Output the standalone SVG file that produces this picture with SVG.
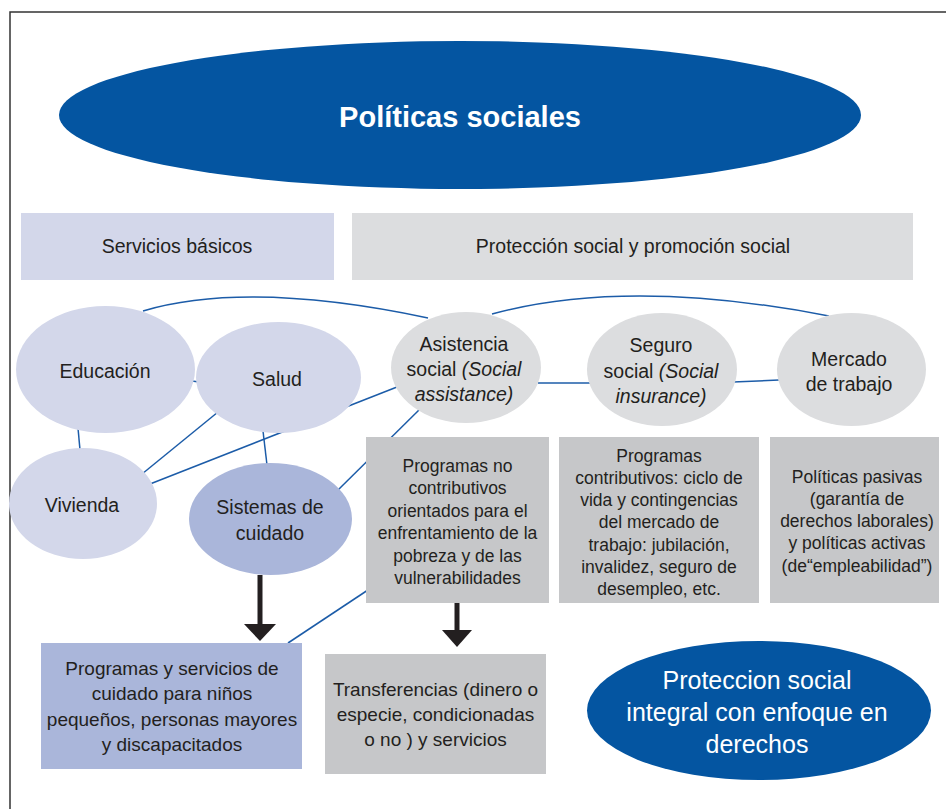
<svg xmlns="http://www.w3.org/2000/svg" width="946" height="809" viewBox="0 0 946 809">
<style>
text{font-family:"Liberation Sans",Arial,sans-serif;fill:#231f20;text-anchor:middle}
.w{fill:#ffffff}
.n{font-size:19.5px}
.b{font-size:17.5px}
.lav{fill:#d3d7ea}
.dlav{fill:#aab6da}
.lg{fill:#dcdddf}
.g{fill:#c6c7c9}
.db{fill:#0455a1}
.c{fill:none;stroke:#1c5ca8;stroke-width:1.5}
.ar{stroke:#231f20;stroke-width:5}
.ah{fill:#231f20}
</style>
<rect width="946" height="809" fill="#ffffff"/>
<path d="M10,809 V12 H946" fill="none" stroke="#333333" stroke-width="1.5"/>

<g id="connectors">
<path class="c" d="M143,311 Q248,280 428,318"/>
<path class="c" d="M492,314 Q628,277 829,316"/>
<path class="c" d="M538,383 L590,383"/>
<path class="c" d="M733,382 L779,380"/>
<path class="c" d="M78,428 L80,450"/>
<path class="c" d="M192,381 L199,382"/>
<path class="c" d="M218,412 L142,474"/>
<path class="c" d="M150,484 L397,387"/>
<path class="c" d="M263,431 L267,465"/>
<path class="c" d="M338,490 L420,409"/>
<path class="c" d="M288,643 L380,582"/>
<line class="ar" x1="260" y1="575" x2="260" y2="626"/>
<polygon class="ah" points="244,624 276,624 260,641"/>
<line class="ar" x1="457" y1="603" x2="457" y2="632"/>
<polygon class="ah" points="442,630 472,630 457,647"/>
</g>

<g id="title">
<ellipse class="db" cx="460" cy="115" rx="401" ry="74"/>
<text class="w" x="460" y="127" font-size="29" font-weight="bold">Políticas sociales</text>
</g>

<g id="servicios">
<rect class="lav" x="21" y="213" width="313" height="67"/>
<text class="n" x="177" y="253">Servicios básicos</text>
</g>

<g id="proteccion">
<rect class="lg" x="352" y="213" width="561" height="67"/>
<text class="n" x="633" y="253">Protección social y promoción social</text>
</g>

<g id="educacion">
<ellipse class="lav" cx="105.5" cy="369.5" rx="89.5" ry="63.5"/>
<text class="n" x="105" y="378">Educación</text>
</g>

<g id="salud">
<ellipse class="lav" cx="278.5" cy="377.5" rx="82.5" ry="55.5"/>
<text class="n" x="277" y="386">Salud</text>
</g>

<g id="vivienda">
<ellipse class="lav" cx="83" cy="503.5" rx="74" ry="55.5"/>
<text class="n" x="82" y="512">Vivienda</text>
</g>

<g id="sistemas">
<ellipse class="dlav" cx="270.5" cy="519" rx="81.5" ry="56"/>
<text class="n" x="270" y="514">Sistemas de</text>
<text class="n" x="270" y="540">cuidado</text>
</g>

<g id="asistencia">
<ellipse class="lg" cx="466" cy="367.5" rx="75" ry="55.5"/>
<text class="n" x="464" y="351">Asistencia</text>
<text class="n" x="464" y="376">social <tspan font-style="italic">(Social</tspan></text>
<text class="n" x="464" y="401" font-style="italic">assistance)</text>
</g>

<g id="seguro">
<ellipse class="lg" cx="662" cy="369.5" rx="75" ry="56.5"/>
<text class="n" x="661" y="352">Seguro</text>
<text class="n" x="661" y="378">social <tspan font-style="italic">(Social</tspan></text>
<text class="n" x="661" y="403" font-style="italic">insurance)</text>
</g>

<g id="mercado">
<ellipse class="lg" cx="851.5" cy="369.5" rx="74.5" ry="56.5"/>
<text class="n" x="849" y="366">Mercado</text>
<text class="n" x="849" y="391">de trabajo</text>
</g>

<g id="no-contributivos">
<rect class="g" x="366" y="437" width="183" height="166"/>
<text class="b" x="457.5" y="472">Programas no</text>
<text class="b" x="457.5" y="494">contributivos</text>
<text class="b" x="457.5" y="517">orientados para el</text>
<text class="b" x="457.5" y="539">enfrentamiento de la</text>
<text class="b" x="457.5" y="562">pobreza y de las</text>
<text class="b" x="457.5" y="584">vulnerabilidades</text>
</g>

<g id="contributivos">
<rect class="g" x="559" y="437" width="200" height="166"/>
<text class="b" x="659" y="462">Programas</text>
<text class="b" x="659" y="484">contributivos: ciclo de</text>
<text class="b" x="659" y="506">vida y contingencias</text>
<text class="b" x="659" y="528">del mercado de</text>
<text class="b" x="659" y="551">trabajo: jubilación,</text>
<text class="b" x="659" y="573">invalidez, seguro de</text>
<text class="b" x="659" y="595">desempleo, etc.</text>
</g>

<g id="politicas-pasivas">
<rect class="g" x="770" y="437" width="169" height="166"/>
<text class="b" x="857" y="483">Políticas pasivas</text>
<text class="b" x="857" y="505">(garantía de</text>
<text class="b" x="857" y="527">derechos laborales)</text>
<text class="b" x="857" y="549">y políticas activas</text>
<text class="b" x="857" y="572">(de“empleabilidad”)</text>
</g>

<g id="programas-cuidado">
<rect class="dlav" x="41" y="643" width="261" height="126"/>
<text x="172" y="675" font-size="19">Programas y servicios de</text>
<text x="172" y="700" font-size="19">cuidado para niños</text>
<text x="172" y="726" font-size="19">pequeños, personas mayores</text>
<text x="172" y="751" font-size="19">y discapacitados</text>
</g>

<g id="transferencias">
<rect class="g" x="325" y="654" width="221" height="120"/>
<text x="435.5" y="696" font-size="19">Transferencias (dinero o</text>
<text x="435.5" y="721" font-size="19">especie, condicionadas</text>
<text x="435.5" y="746" font-size="19">o no ) y servicios</text>
</g>

<g id="integral">
<ellipse class="db" cx="759" cy="710.5" rx="172" ry="69.5"/>
<text class="w" x="757" y="689" font-size="25">Proteccion social</text>
<text class="w" x="757" y="721" font-size="25">integral con enfoque en</text>
<text class="w" x="757" y="753" font-size="25">derechos</text>
</g>
</svg>
